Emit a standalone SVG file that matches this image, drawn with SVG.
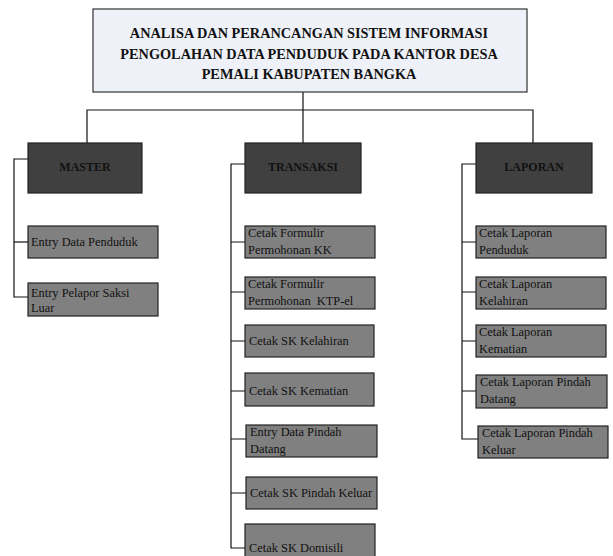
<svg xmlns="http://www.w3.org/2000/svg" width="613" height="556" viewBox="0 0 613 556">
  <style>
    .title { fill: #eef2f8; stroke: #333; stroke-width: 1.2; }
    .head { fill: #404040; stroke: #222; stroke-width: 1.2; }
    .item { fill: #808080; stroke: #222; stroke-width: 1.2; }
    .tt { font-family: "Liberation Serif", "Times New Roman", serif; font-weight: bold; font-size: 14.3px; fill: #111; text-anchor: middle; }
    .ht { font-family: "Liberation Serif", "Times New Roman", serif; font-weight: bold; font-size: 12px; fill: #111; text-anchor: middle; }
    .it { font-family: "Liberation Serif", "Times New Roman", serif; font-size: 12.4px; fill: #111; }
    .wire { fill: none; stroke: #111; stroke-width: 1.2; }
  </style>
  <rect width="613" height="556" fill="#ffffff"/>

  <!-- connectors -->
  <g id="connectors" class="wire">
    <path d="M303 92 V143"/>
    <path d="M87 143 V110 H533 V143"/>
    <!-- MASTER branch -->
    <path d="M28 159 H14 V297 H28"/>
    <path d="M14 242 H28"/>
    <!-- TRANSAKSI branch -->
    <path d="M245 164 H231 V548 H245"/>
    <path d="M231 242 H245 M231 292 H245 M231 341 H245 M231 391 H245 M231 439 H246 M231 493 H246"/>
    <!-- LAPORAN branch -->
    <path d="M476 164 H462 V439 H478"/>
    <path d="M462 242 H476 M462 292 H476 M462 341 H476 M462 391 H476"/>
  </g>

  <g id="title">
    <rect class="title" x="93" y="9" width="434" height="83"/>
    <text class="tt" x="309" y="38">ANALISA DAN PERANCANGAN SISTEM INFORMASI</text>
    <text class="tt" x="309" y="59">PENGOLAHAN DATA PENDUDUK PADA KANTOR DESA</text>
    <text class="tt" x="309" y="79">PEMALI KABUPATEN BANGKA</text>
  </g>

  <g id="master">
    <rect class="head" x="28" y="143" width="114" height="50"/>
    <text class="ht" x="85" y="171">MASTER</text>
  </g>
  <g id="transaksi">
    <rect class="head" x="245" y="143" width="116" height="50"/>
    <text class="ht" x="303" y="171">TRANSAKSI</text>
  </g>
  <g id="laporan">
    <rect class="head" x="476" y="143" width="116" height="50"/>
    <text class="ht" x="534" y="171">LAPORAN</text>
  </g>

  <!-- MASTER items -->
  <g id="entry-data-penduduk">
    <rect class="item" x="28" y="226" width="130" height="32"/>
    <text class="it" x="31" y="246">Entry Data Penduduk</text>
  </g>
  <g id="entry-pelapor">
    <rect class="item" x="28" y="283" width="130" height="33"/>
    <text class="it" x="31" y="297">Entry Pelapor Saksi</text>
    <text class="it" x="31" y="312">Luar</text>
  </g>

  <!-- TRANSAKSI items -->
  <g id="formulir-kk">
    <rect class="item" x="245" y="226" width="130" height="32"/>
    <text class="it" x="248" y="237">Cetak Formulir</text>
    <text class="it" x="248" y="254">Permohonan KK</text>
  </g>
  <g id="formulir-ktp">
    <rect class="item" x="245" y="277" width="130" height="32"/>
    <text class="it" x="248" y="288">Cetak Formulir</text>
    <text class="it" x="248" y="305" xml:space="preserve">Permohonan  KTP-el</text>
  </g>
  <g id="sk-kelahiran">
    <rect class="item" x="245" y="325" width="129" height="32"/>
    <text class="it" x="249" y="345">Cetak SK Kelahiran</text>
  </g>
  <g id="sk-kematian">
    <rect class="item" x="245" y="373" width="129" height="33"/>
    <text class="it" x="249" y="395">Cetak SK Kematian</text>
  </g>
  <g id="pindah-datang">
    <rect class="item" x="246" y="425" width="131" height="32"/>
    <text class="it" x="250" y="436">Entry Data Pindah</text>
    <text class="it" x="250" y="453">Datang</text>
  </g>
  <g id="sk-pindah-keluar">
    <rect class="item" x="246" y="477" width="131" height="32"/>
    <text class="it" x="250" y="497">Cetak SK Pindah Keluar</text>
  </g>
  <g id="sk-domisili">
    <rect class="item" x="245" y="524" width="130" height="40"/>
    <text class="it" x="249" y="552">Cetak SK Domisili</text>
  </g>

  <!-- LAPORAN items -->
  <g id="lap-penduduk">
    <rect class="item" x="476" y="226" width="130" height="32"/>
    <text class="it" x="479" y="237">Cetak Laporan</text>
    <text class="it" x="479" y="254">Penduduk</text>
  </g>
  <g id="lap-kelahiran">
    <rect class="item" x="476" y="277" width="130" height="32"/>
    <text class="it" x="479" y="288">Cetak Laporan</text>
    <text class="it" x="479" y="305">Kelahiran</text>
  </g>
  <g id="lap-kematian">
    <rect class="item" x="476" y="325" width="130" height="32"/>
    <text class="it" x="479" y="336">Cetak Laporan</text>
    <text class="it" x="479" y="353">Kematian</text>
  </g>
  <g id="lap-pindah-datang">
    <rect class="item" x="476" y="375" width="131" height="33"/>
    <text class="it" x="480" y="386">Cetak Laporan Pindah</text>
    <text class="it" x="480" y="403">Datang</text>
  </g>
  <g id="lap-pindah-keluar">
    <rect class="item" x="478" y="426" width="130" height="32"/>
    <text class="it" x="482" y="437">Cetak Laporan Pindah</text>
    <text class="it" x="482" y="454">Keluar</text>
  </g>
</svg>
